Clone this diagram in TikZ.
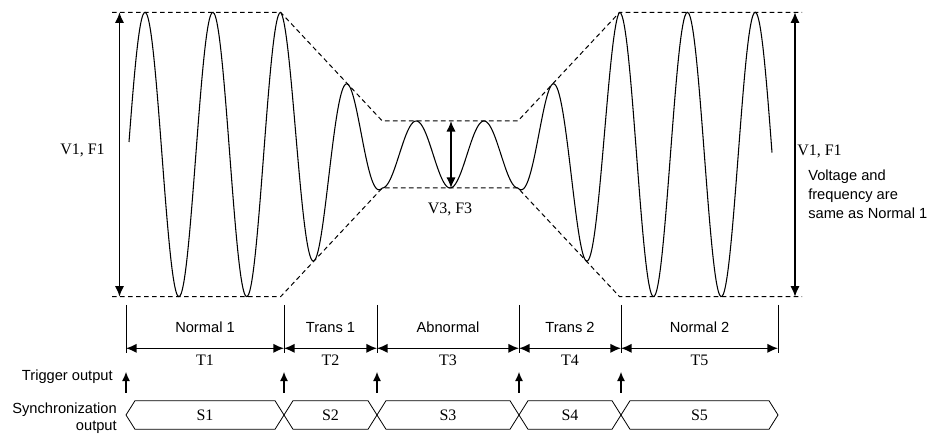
\documentclass[tikz,border=0pt]{standalone}
\usepackage{fontspec}
\setmainfont{Liberation Serif}
\setsansfont{Liberation Sans}
\usetikzlibrary{arrows.meta}

\begin{document}
\begin{tikzpicture}[x=0.75pt,y=0.75pt,>={Latex[length=8pt,width=7pt]},
  wave/.style={line width=0.8pt},
  envelope/.style={line width=0.75pt,dash pattern=on 3.5pt off 2.5pt},
  dimline/.style={<->,line width=1.1pt},
  trig/.style={-{Latex[length=7pt,width=6pt]},line width=1.1pt},
  lbl/.style={font=\fontsize{11}{14}\selectfont\sffamily,inner sep=0pt},
  val/.style={font=\fontsize{12}{14}\selectfont,inner sep=0pt}]
  \useasboundingbox (0,0) rectangle (932,435);
  % waveform, amplitude changes linearly in the transitions
  \foreach \xa/\xb/\aa/\ab in {129/280.6/142.2/142.2, 280.6/382.3/142.2/33.5,
      382.3/517.9/33.5/33.5, 517.9/619.6/33.5/142.2, 619.6/772/142.2/142.2}
    \draw[wave] plot[domain=\xa:\xb,samples=120,smooth]
      (\x,{280.5+(\aa+(\ab-\aa)*((\x-\xa)/(\xb-\xa)))*cos(((\x-145)/33.9)*180)});
  % envelope
  \draw[envelope] (112,422.7) -- (280.6,422.7) -- (382.3,314) -- (517.9,314)
    -- (619.6,422.7) -- (802,422.7);
  \draw[envelope] (112,138.3) -- (280.6,138.3) -- (382.3,247) -- (517.9,247)
    -- (619.6,138.3) -- (802,138.3);
  % amplitudes
  \coordinate (ampLtop) at (119.5,422.7);
  \coordinate (ampLbot) at (119.5,138.3);
  \coordinate (ampMtop) at (451,314);
  \coordinate (ampMbot) at (451,247);
  \coordinate (ampRtop) at (795,422.7);
  \coordinate (ampRbot) at (795,138.3);
  \draw[dimline] (ampLtop) -- (ampLbot);
  \draw[dimline] (ampMtop) -- (ampMbot);
  \draw[dimline] (ampRtop) -- (ampRbot);
  \node[val,anchor=east] (vfL) at (105,285) {V1, F1};
  \node[val] (vfM) at (450,226) {V3, F3};
  \node[val,anchor=west] (vfR) at (797,284) {V1, F1};
  \node[lbl,anchor=north west,align=left] (note) at (808,265)
    {Voltage and\\frequency are\\same as Normal 1};
  % time segments
  \foreach \i/\x in {0/126,1/284,2/377,3/519,4/621,5/778}{
    \coordinate (tick\i) at (\x,130);
    \coordinate (dim\i) at (\x,86.7);
    \coordinate (trg\i) at (\x,42.3);
    \coordinate (tip\i) at (\x,63.3);
    \draw[line width=0.6pt] (tick\i) -- ++(0,-48);
  }
  \foreach \i/\j/\name in {0/1/Normal 1,1/2/Trans 1,2/3/Abnormal,3/4/Trans 2,4/5/Normal 2}
    \draw[dimline] (dim\i) -- node[lbl,above=11pt] (seg\j) {\name}
      node[val,below=4.5pt] (per\j) {T\j} (dim\j);
  % trigger output
  \foreach \i in {0,...,4}
    \draw[trig] (trg\i) -- (tip\i);
  \node[lbl,anchor=east] (trglabel) at (113,58) {Trigger output};
  % synchronization output
  \foreach \i/\xa/\xb in {1/126/284,2/284/377,3/377/519,4/519/621,5/621/778}{
    \draw[line width=0.6pt] (\xa,20) -- (\xa+9,34.3) -- (\xb-9,34.3) -- (\xb,20)
      -- (\xb-9,5.7) -- (\xa+9,5.7) -- cycle;
    \node[val] (sync\i) at ({(\xa+\xb)/2},20) {S\i};
  }
  \node[lbl,anchor=north east,align=right,font=\fontsize{11}{12.5}\selectfont\sffamily]
    (synclabel) at (117,32) {Synchronization\\output};
\end{tikzpicture}
\end{document}
